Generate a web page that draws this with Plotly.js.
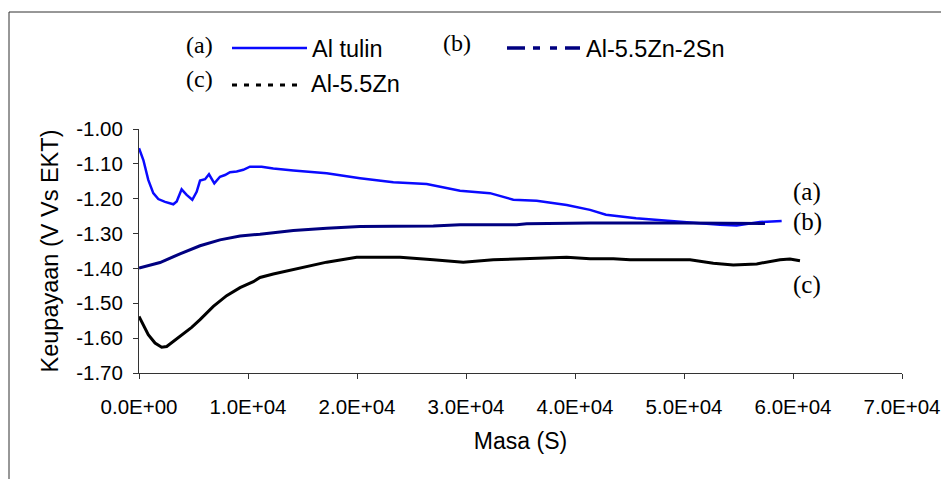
<!DOCTYPE html>
<html>
<head>
<meta charset="utf-8">
<script src="https://cdn.plot.ly/plotly-3.0.1.min.js"></script>
<style>
  html, body { margin: 0; padding: 0; background: #ffffff; }
  #chart { width: 941px; height: 479px; }
</style>
</head>
<body>
<div id="chart"></div>
<script>
// ---- data ----
const seriesNames = ["Al tulin", "Al-5.5Zn-2Sn", "Al-5.5Zn"];
const seriesTags = ["(a)", "(b)", "(c)"];

const alTulinX = [0, 400, 850, 1310, 1770, 2390, 3150, 3460, 3910, 4370,
  4890, 5290, 5600, 6060, 6420, 6910, 7430, 7890, 8350, 8960,
  9570, 10180, 11250, 12320, 14160, 17220, 20280, 23330, 26390, 29450,
  32200, 34340, 36480, 39240, 41380, 42840, 45600, 48070, 50550, 53300,
  54830, 56970, 58960];
const alTulinY = [-1.055, -1.089, -1.146, -1.184, -1.201, -1.209, -1.216, -1.208, -1.173, -1.189,
  -1.203, -1.180, -1.148, -1.144, -1.130, -1.156, -1.137, -1.132, -1.124, -1.122,
  -1.117, -1.108, -1.108, -1.113, -1.119, -1.127, -1.141, -1.153, -1.158, -1.177,
  -1.184, -1.203, -1.206, -1.218, -1.232, -1.246, -1.256, -1.261, -1.268, -1.275,
  -1.277, -1.267, -1.264];

const alZnSnX = [0, 1930, 3760, 5600, 7430, 9270, 11100, 14160, 17220, 20280,
  23330, 27000, 29450, 34650, 35570, 39240, 41380, 50000, 57430];
const alZnSnY = [-1.399, -1.383, -1.358, -1.335, -1.318, -1.307, -1.302, -1.291, -1.285, -1.280,
  -1.279, -1.278, -1.275, -1.275, -1.272, -1.270, -1.270, -1.270, -1.271];

const alZnX = [0, 390, 850, 1470, 2080, 2540, 3150, 3910, 4830, 5600,
  6820, 8040, 9270, 10490, 11100, 12320, 14160, 17220, 19970, 23950,
  27000, 29750, 32500, 35570, 39240, 41380, 43520, 45050, 50550, 52690,
  54520, 56670, 58810, 59720, 60640];
const alZnY = [-1.538, -1.562, -1.590, -1.614, -1.626, -1.624, -1.609, -1.590, -1.569, -1.547,
  -1.509, -1.478, -1.455, -1.438, -1.426, -1.416, -1.404, -1.382, -1.368, -1.368,
  -1.375, -1.382, -1.375, -1.371, -1.368, -1.372, -1.372, -1.375, -1.375, -1.385,
  -1.390, -1.387, -1.375, -1.373, -1.378];

const xTickVals = [0, 10000, 20000, 30000, 40000, 50000, 60000, 70000];
const xTickLabels = ["0.0E+00", "1.0E+04", "2.0E+04", "3.0E+04", "4.0E+04", "5.0E+04", "6.0E+04", "7.0E+04"];
const yTickVals = [-1.70, -1.60, -1.50, -1.40, -1.30, -1.20, -1.10, -1.00];
const yTickLabels = ["-1.70", "-1.60", "-1.50", "-1.40", "-1.30", "-1.20", "-1.10", "-1.00"];

// ---- styling / layout ----
const colors = ["#0a0aff", "#000080", "#000000"];
const W = 941, H = 479;
const M = { l: 139, r: 39, t: 129, b: 106 };
const PW = W - M.l - M.r, PH = H - M.t - M.b;
const px = x => (x - M.l) / PW;
const py = y => (M.t + PH - y) / PH;

const sans = "Liberation Sans, Arial, sans-serif";
const serif = "Liberation Serif, Times New Roman, serif";

const traces = [
  { x: alTulinX, y: alTulinY, name: seriesNames[0], mode: "lines",
    line: { color: colors[0], width: 2.5 } },
  { x: alZnSnX, y: alZnSnY, name: seriesNames[1], mode: "lines",
    line: { color: colors[1], width: 3 } },
  { x: alZnX, y: alZnY, name: seriesNames[2], mode: "lines",
    line: { color: colors[2], width: 3 } }
];

const shapes = [
  // chart-area frame (top and left edges visible)
  { type: "line", xref: "paper", yref: "paper", x0: px(9), x1: px(W + 5), y0: py(12), y1: py(12),
    line: { color: "#303030", width: 1 } },
  { type: "line", xref: "paper", yref: "paper", x0: px(9), x1: px(9), y0: py(12), y1: py(H + 5),
    line: { color: "#303030", width: 1 } },
  // legend samples
  { type: "line", xref: "paper", yref: "paper", x0: px(232), x1: px(307), y0: py(48), y1: py(48),
    line: { color: colors[0], width: 2.5 } },
  { type: "line", xref: "paper", yref: "paper", x0: px(507), x1: px(580), y0: py(48), y1: py(48),
    line: { color: colors[1], width: 3.5, dash: "18px,8px,7px,10px,7px,8px,15px" } },
  { type: "line", xref: "paper", yref: "paper", x0: px(232), x1: px(300), y0: py(85), y1: py(85),
    line: { color: colors[2], width: 3, dash: "5px,7px" } }
];

function ann(text, x, y, font) {
  return { text: text, xref: "paper", yref: "paper", x: px(x), y: py(y),
    xanchor: "left", yanchor: "middle", showarrow: false, font: font };
}
const tagFont = { family: serif, size: 24, color: "#000" };
const endFont = { family: serif, size: 25, color: "#000" };
const legFont = { family: sans, size: 23.5, color: "#000" };

const annotations = [
  ann(seriesTags[0], 184, 45, tagFont),
  ann(seriesNames[0], 310, 49, legFont),
  ann(seriesTags[1], 441, 43, tagFont),
  ann(seriesNames[1], 584, 49, legFont),
  ann(seriesTags[2], 184, 79, tagFont),
  ann(seriesNames[2], 309, 84, legFont),
  ann(seriesTags[0], 791, 192, endFont),
  ann(seriesTags[1], 791, 222, endFont),
  ann(seriesTags[2], 791, 284.5, endFont)
];

const layout = {
  width: W, height: H,
  margin: M,
  paper_bgcolor: "#ffffff", plot_bgcolor: "#ffffff",
  showlegend: false,
  font: { family: sans, size: 20, color: "#000" },
  xaxis: {
    range: [0, 70000], tickmode: "array", tickvals: xTickVals, ticktext: xTickLabels,
    showgrid: false, zeroline: false, showline: true, linecolor: "#333", linewidth: 1,
    ticks: "outside", ticklen: 5, tickcolor: "#333", tickwidth: 1,
    ticklabelstandoff: 10,
    tickfont: { family: sans, size: 20.5, color: "#000" },
    title: { text: "Masa (S)", font: { family: sans, size: 23, color: "#000" }, standoff: 16 },
    fixedrange: true
  },
  yaxis: {
    range: [-1.70, -1.00], tickmode: "array", tickvals: yTickVals, ticktext: yTickLabels,
    showgrid: false, zeroline: false, showline: true, linecolor: "#333", linewidth: 1,
    ticks: "outside", ticklen: 5, tickcolor: "#333", tickwidth: 1,
    ticklabelstandoff: 6,
    tickfont: { family: sans, size: 20.5, color: "#000" },
    title: { text: "Keupayaan (V Vs EKT)", font: { family: sans, size: 23.5, color: "#000" }, standoff: 10 },
    fixedrange: true
  },
  shapes: shapes,
  annotations: annotations
};

Plotly.newPlot("chart", traces, layout, { displayModeBar: false, staticPlot: true });
</script>
</body>
</html>
